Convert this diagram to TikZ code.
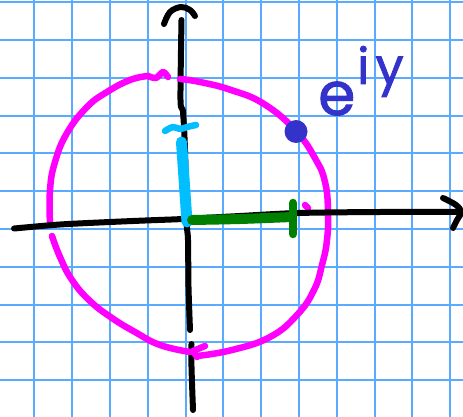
\documentclass[tikz,border=0pt]{standalone}
\usepackage{fontspec}
\newfontfamily\hand[FakeBold=1.5]{Poppins}
\definecolor{gridblue}{RGB}{90,170,255}
\definecolor{penmagenta}{RGB}{255,0,255}
\definecolor{pencyan}{RGB}{0,190,255}
\definecolor{pengreen}{RGB}{0,128,0}
\definecolor{inkblue}{RGB}{51,51,204}
\begin{document}
\begin{tikzpicture}[x=1pt,y=-1pt,
  pen/.style={line cap=round,line join=round},
  gridline/.style={draw=gridblue,line width=2pt},
  axisline/.style={pen,draw=black,line width=6pt},
  circleline/.style={pen,draw=penmagenta,line width=6.5pt},
  cyanline/.style={pen,draw=pencyan},
  greenline/.style={pen,draw=pengreen},
  inktext/.style={inner sep=0pt,text=inkblue}]
\fill[white] (0,0) rectangle (463,417);
\useasboundingbox (0,0) rectangle (463,417);
% grid paper
\foreach \i in {0,...,11} \draw[gridline] ({34.3+37.8*\i},0) -- ++(0,417);
\foreach \j in {0,...,10} \draw[gridline] (0,{2.2+37.8*\j}) -- ++(463,0);
% vertical axis
\draw[axisline] plot[smooth,tension=0.5] coordinates {(181.5,20) (180.5,100) (183,112) (185,150) (186.5,220) (188,240) (188.5,287) (190,330)};
\draw[axisline] plot[smooth,tension=0.5] coordinates {(191.5,344) (191.5,367) (193,410)};
\draw[axisline] plot[smooth,tension=0.6] coordinates {(164,24) (170,12) (181,7) (190,10) (195,16)};
% magenta circle
\draw[circleline] plot[smooth,tension=0.5] coordinates {(168,77) (163,72) (156,78) (148,76)};
\draw[circleline] plot[smooth,tension=0.75] coordinates {(148,76) (130,80) (107,92) (87,107) (67,133) (55,162) (50,190) (50,224)};
\draw[circleline] plot[smooth,tension=0.75] coordinates {(52,236) (60,257) (72,280) (90,301) (112,318) (135,332) (160,345) (190,352)};
\draw[circleline] (205,346) -- (193,351) -- (197,357);
\draw[circleline] plot[smooth,tension=0.75] coordinates {(197,356) (232,350) (270,337) (297,315) (314,290) (322,265) (327,240) (328,210) (325,182) (316,160) (296,131) (264,104) (231,90) (200,82) (180,79)};
\draw[circleline] (305,205) -- (308,208);
% horizontal axis
\draw[axisline] plot[smooth,tension=0.5] coordinates {(14,228.5) (60,224.5) (110,222) (150,220.3) (183,219) (240,216) (298,213) (380,212) (460,212)};
\draw[axisline] plot[smooth,tension=0.6] coordinates {(443,198) (456,205) (461,212) (457,220) (453,228)};
% cyan segment
\draw[cyanline,line width=11pt] (181.5,142) -- (187,222);
\draw[cyanline,line width=6.5pt] plot[smooth,tension=0.6] coordinates {(165,131) (173,127) (180,129) (187,127) (196,125)};
% green segment
\draw[greenline,line width=10pt] plot[smooth,tension=0.5] coordinates {(192,220) (240,219) (292,217)};
\draw[greenline,line width=8.5pt] (293,203) -- (293,234);
% point and label
\fill[inkblue] (296,131.5) circle[radius=11.5pt];
\node[inktext,anchor=base west,font=\hand\fontsize{60}{60}\selectfont] (e) at (318,115) {e};
\node[inktext,anchor=base west,font=\hand\fontsize{50}{50}\selectfont] (iy) at (357,84) {i\kern6pt y};
\end{tikzpicture}
\end{document}
